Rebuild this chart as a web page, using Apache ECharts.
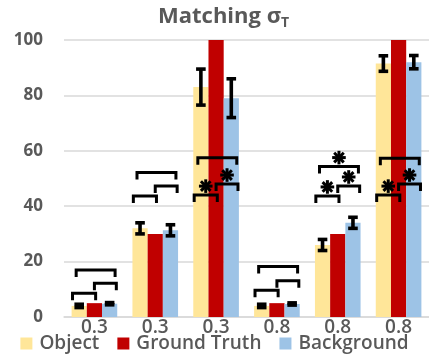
<!DOCTYPE html>
<html>
<head>
<meta charset="utf-8">
<script src="https://cdn.jsdelivr.net/npm/echarts@6/dist/echarts.min.js"></script>
<style>
  html, body { margin: 0; padding: 0; background: #fff; }
  #chart { width: 429px; height: 358px; }
</style>
</head>
<body>
<div id="chart"></div>
<script>
// Matching sigma_T: three conditions per threshold group
const categories = ['0.3', '0.3', '0.3', '0.8', '0.8', '0.8'];
const objectVals = [4, 32, 83, 4, 26, 91.5];
const truthVals = [5, 30, 100, 5, 30, 100];
const backgroundVals = [4.8, 31.3, 79, 4.7, 34, 92];
const objectErr = [0.6, 2, 6.5, 0.6, 2, 2.8];
const backgroundErr = [0.4, 2, 7, 0.4, 2, 2.4];

// Significance brackets: [group, pair, height, significant]
// pair 0 = Object–Ground Truth, 1 = Ground Truth–Background, 2 = Object–Background
const brackets = [
  [0, 0, 8.6, 0], [0, 1, 12.2, 0], [0, 2, 17, 0],
  [1, 0, 43.7, 0], [1, 1, 47.3, 0], [1, 2, 52.2, 0],
  [2, 0, 44, 1], [2, 1, 48, 1], [2, 2, 57.5, 0],
  [3, 0, 9.7, 0], [3, 1, 13.1, 0], [3, 2, 18.2, 0],
  [4, 0, 43.7, 1], [4, 1, 47.3, 1], [4, 2, 54.3, 1],
  [5, 0, 44, 1], [5, 1, 48, 1], [5, 2, 57.3, 0]
];

const COLORS = { object: '#FFE699', truth: '#C00000', background: '#9DC3E6' };
const TEXT = '#595959';
const FONT = 'Open Sans';

// bracket extents as fractions of the category band, relative to its centre
const pairSpan = [[-0.36, 0.02], [0.0, 0.36], [-0.30, 0.34]];

const errData = [];
objectVals.forEach((v, i) => errData.push([i, 0, v, objectErr[i]]));
backgroundVals.forEach((v, i) => errData.push([i, 2, v, backgroundErr[i]]));

const errStyle = { stroke: '#000', lineWidth: 3.6, fill: null };

function renderError(params, api) {
  const cat = api.value(0), slot = api.value(1), v = api.value(2), e = api.value(3);
  const band = api.size([1, 0])[0];
  const c = api.coord([cat, v]);
  const x = c[0] + (slot - 1) * band * 0.25;
  const yTop = api.coord([cat, v + e])[1];
  const yBot = api.coord([cat, v - e])[1];
  const cap = 4.8;
  return {
    type: 'group',
    children: [
      { type: 'line', shape: { x1: x, y1: yTop, x2: x, y2: yBot }, style: errStyle },
      { type: 'line', shape: { x1: x - cap, y1: yTop, x2: x + cap, y2: yTop }, style: errStyle },
      { type: 'line', shape: { x1: x - cap, y1: yBot, x2: x + cap, y2: yBot }, style: errStyle }
    ]
  };
}

function star(cx, cy, r) {
  const out = [];
  for (let k = 0; k < 4; k++) {
    const a = k * Math.PI / 4;
    out.push({
      type: 'line',
      shape: { x1: cx - r * Math.cos(a), y1: cy - r * Math.sin(a), x2: cx + r * Math.cos(a), y2: cy + r * Math.sin(a) },
      style: { stroke: '#000', lineWidth: 3 }
    });
  }
  return out;
}

function renderBracket(params, api) {
  const cat = api.value(0), pair = api.value(1), h = api.value(2), sig = api.value(3);
  const band = api.size([1, 0])[0];
  const c = api.coord([cat, h]);
  const span = pairSpan[pair];
  const xl = c[0] + span[0] * band, xr = c[0] + span[1] * band;
  const y = c[1], tick = 7;
  const children = [{
    type: 'polyline',
    shape: { points: [[xl, y + tick], [xl, y], [xr, y], [xr, y + tick]] },
    style: { stroke: '#000', lineWidth: 3, fill: null }
  }];
  if (sig) children.push(...star((xl + xr) / 2, y - 9, 6.8));
  return { type: 'group', children };
}

const chart = echarts.init(document.getElementById('chart'), null, { renderer: 'canvas' });
chart.setOption({
  animation: false,
  title: {
    text: '{m|Matching σ}{s|T}',
    left: 158,
    top: 3,
    padding: 0,
    textStyle: {
      rich: {
        m: { fontFamily: FONT, fontSize: 22, fontWeight: 'bold', color: TEXT },
        s: { fontFamily: FONT, fontSize: 14, fontWeight: 'bold', color: TEXT, padding: [13, 0, 0, 0] }
      }
    }
  },
  legend: {
    bottom: 0,
    left: 'center',
    itemWidth: 12,
    itemHeight: 12,
    itemGap: 18,
    icon: 'rect',
    data: ['Object', 'Ground Truth', 'Background'],
    textStyle: { fontFamily: FONT, fontSize: 19, fontWeight: 600, color: TEXT, padding: [0, 0, 0, 2] }
  },
  grid: { left: 64, right: 0, top: 40, bottom: 41 },
  xAxis: {
    type: 'category',
    data: categories,
    axisLine: { lineStyle: { color: '#D9D9D9', width: 1.5 } },
    axisTick: { show: false },
    axisLabel: { fontFamily: FONT, fontSize: 19, fontWeight: 600, color: TEXT, margin: 1 }
  },
  yAxis: {
    type: 'value',
    min: 0,
    max: 100,
    interval: 20,
    axisLine: { show: false },
    axisTick: { show: false },
    splitLine: { lineStyle: { color: '#D9D9D9', width: 1.5 } },
    axisLabel: { fontFamily: FONT, fontSize: 17, fontWeight: 'bold', color: TEXT, margin: 21 }
  },
  series: [
    { name: 'Object', type: 'bar', data: objectVals, barGap: '0%', barCategoryGap: '25%', itemStyle: { color: COLORS.object } },
    { name: 'Ground Truth', type: 'bar', data: truthVals, barGap: '0%', barCategoryGap: '25%', itemStyle: { color: COLORS.truth } },
    { name: 'Background', type: 'bar', data: backgroundVals, barGap: '0%', barCategoryGap: '25%', itemStyle: { color: COLORS.background } },
    { type: 'custom', data: errData, renderItem: renderError, z: 5, silent: true },
    { type: 'custom', data: brackets, renderItem: renderBracket, z: 5, silent: true }
  ]
});
</script>
</body>
</html>
